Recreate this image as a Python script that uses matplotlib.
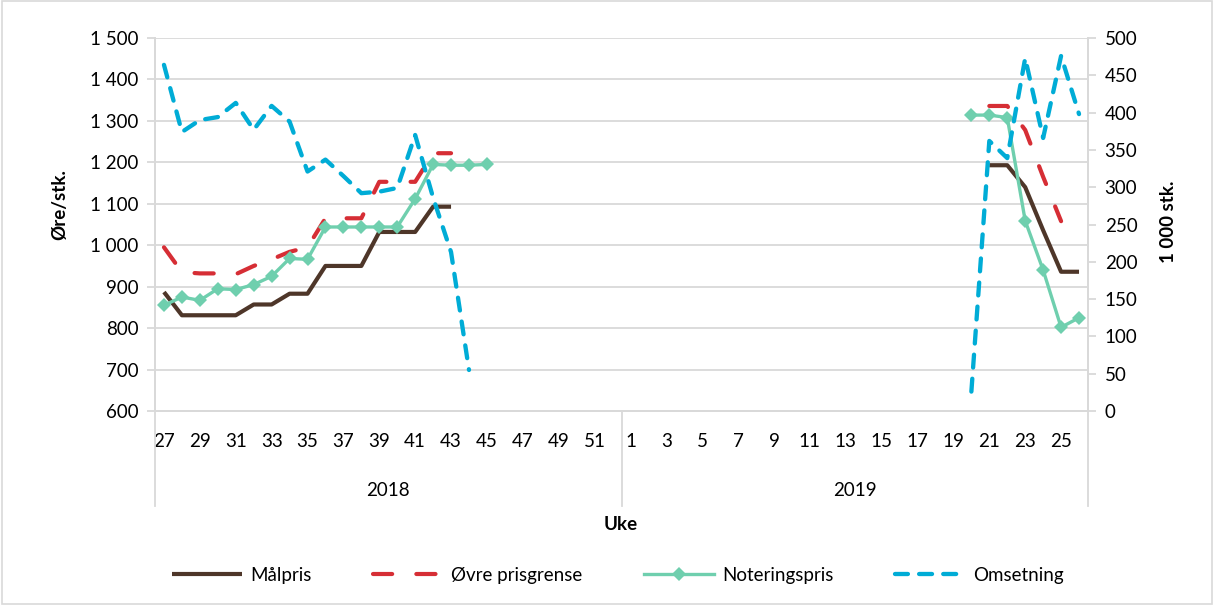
import numpy as np
import pandas as pd
import matplotlib
matplotlib.use("Agg")
import matplotlib.pyplot as plt
from matplotlib.patches import Rectangle
from matplotlib.lines import Line2D
from matplotlib.ticker import FuncFormatter, MultipleLocator
import matplotlib.transforms as mtrans

plt.rcParams['font.family'] = ['Lato', 'DejaVu Sans']

# category axis: weeks 27-52 of 2018 and 1-26 of 2019
weeks_2018 = list(range(27, 53))
weeks_2019 = list(range(1, 27))
years = ["2018", "2019"]

# series values, given from a start week onwards
malpris_2018 = [887, 831, 831, 831, 831, 857, 857, 883, 883, 950, 950, 950,
                1032, 1032, 1032, 1093, 1093]                     # from week 27
malpris_2019 = [1193, 1193, 1140, 1036, 936, 936]                 # from week 21
ovre_2018 = [995, 935, 932, 932, 930, 950, 966, 984, 995, 1065, 1065, 1065,
             1153, 1153, 1153, 1222, 1222]                        # from week 27
ovre_2019 = [1336, 1336, 1278, 1165, 1058]                        # from week 21
notering_2018 = [855, 875, 867, 895, 893, 905, 925, 968, 966, 1044, 1044, 1044,
                 1044, 1044, 1112, 1195, 1193, 1193, 1195]       # from week 27
notering_2019 = [1314, 1314, 1308, 1059, 940, 802, 825]           # from week 20
omsetning_2018 = [464, 374, 390, 394, 413, 377, 409, 388, 321, 337, 315, 292,
                  294, 299, 370, 286, 213, 55]                     # from week 27
omsetning_2019 = [26, 362, 339, 473, 366, 476, 398]               # from week 20

labels = [("2018", w) for w in weeks_2018] + [("2019", w) for w in weeks_2019]
idx = pd.MultiIndex.from_tuples(labels)


def series(v18, start18, v19, start19):
    s = pd.Series(np.nan, index=idx)
    for i, v in enumerate(v18):
        s[("2018", start18 + i)] = v
    for i, v in enumerate(v19):
        s[("2019", start19 + i)] = v
    return s.values


malpris = series(malpris_2018, 27, malpris_2019, 21)
ovre = series(ovre_2018, 27, ovre_2019, 21)
notering = series(notering_2018, 27, notering_2019, 20)
omsetning = series(omsetning_2018, 27, omsetning_2019, 20)
x = np.arange(len(labels))

fig = plt.figure(figsize=(12.14, 6.06), dpi=100)
ax = fig.add_axes([155/1214, 1-411/606, (1088-155)/1214, (411-38)/606])
ax2 = ax.twinx()

grey = "#d9d9d9"
brown = "#4e3629"
red = "#d62e35"
teal = "#6fcfae"
blue = "#00acd6"

l1, = ax.plot(x, malpris, color=brown, lw=3.0, solid_capstyle='butt', label="Målpris")
l2, = ax.plot(x, ovre, color=red, lw=3.0, linestyle=(0, (4.6, 5.8)),
              dash_capstyle='round', label="Øvre prisgrense")
l3, = ax.plot(x, notering, color=teal, lw=2.4, marker='D', ms=7.5,
              markeredgewidth=0, label="Noteringspris")
l4, = ax2.plot(x, omsetning, color=blue, lw=3.1, linestyle=(0, (3.0, 2.6)),
               dash_capstyle='round', label="Omsetning")

ax.set_xlim(-0.5, len(labels) - 0.5)
ax.set_ylim(600, 1500)
ax2.set_ylim(0, 500)
ax.yaxis.set_major_locator(MultipleLocator(100))
ax2.yaxis.set_major_locator(MultipleLocator(50))
ax.yaxis.set_major_formatter(FuncFormatter(lambda v, p: f"{int(v):,}".replace(",", " ")))
ax.grid(axis='y', color=grey, lw=1.3)
ax.set_axisbelow(True)

for a in (ax, ax2):
    for s in a.spines.values():
        s.set_color(grey)
        s.set_linewidth(1.3)
    a.spines['top'].set_visible(False)
    a.tick_params(axis='y', colors=grey, labelcolor='black', labelsize=13.5,
                  length=6, width=1.3, direction='out', pad=6)

ax.set_xticks(x[::2])
ax.set_xticklabels([str(w) for _, w in labels[::2]])
ax.tick_params(axis='x', length=0, labelsize=13.5, pad=16)

# second level of the category axis
trans = mtrans.blended_transform_factory(ax.transData, ax.transAxes)
for pos in [-0.5, len(weeks_2018) - 0.5, len(labels) - 0.5]:
    ax.add_line(Line2D([pos, pos], [0, -0.255], transform=trans, color=grey,
                       lw=1.3, clip_on=False))
ax.text((len(weeks_2018) - 1) / 2, -0.213, years[0], transform=trans,
        ha='center', va='center', fontsize=13.5)
ax.text(len(weeks_2018) + (len(weeks_2019) - 1) / 2, -0.213, years[1],
        transform=trans, ha='center', va='center', fontsize=13.5)

fig.text(621/1214, 1-524/606, "Uke", ha='center', va='center', fontsize=13.5,
         fontweight='bold')
fig.text(60/1214, 1-205/606, "Øre/stk.", ha='center', va='center', rotation=90,
         fontsize=13.5, fontweight='bold')
fig.text(1168/1214, 1-222/606, "1 000 stk.", ha='center', va='center', rotation=90,
         fontsize=13.5, fontweight='bold')

fig.legend(handles=[l1, l2, l3, l4], loc='center', bbox_to_anchor=(618/1214, 1-575/606),
           ncol=4, frameon=False, fontsize=13.5, handlelength=3.7, handletextpad=0.45,
           columnspacing=3.3)

fig.patches.append(Rectangle((0.002, 0.004), 0.996, 0.994, transform=fig.transFigure,
                             fill=False, edgecolor=grey, lw=1.2))

fig.savefig("out.png", dpi=100)
